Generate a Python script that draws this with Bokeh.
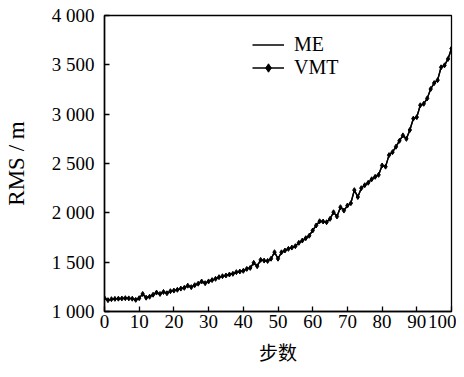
from bokeh.plotting import figure
from bokeh.models import Range1d, FixedTicker, Legend, LegendItem
from bokeh.embed import file_html
from bokeh.resources import INLINE

steps = list(range(0, 101))
vmt = [1135, 1115, 1125, 1128, 1130, 1132, 1135, 1133, 1130, 1118,
       1135, 1178, 1140, 1150, 1170, 1192, 1178, 1198, 1185, 1206,
       1212, 1220, 1232, 1240, 1262, 1247, 1267, 1282, 1304, 1287,
       1305, 1318, 1331, 1348, 1358, 1365, 1375, 1382, 1399, 1405,
       1412, 1432, 1442, 1493, 1459, 1523, 1516, 1512, 1535, 1601,
       1535, 1600, 1618, 1635, 1648, 1662, 1696, 1719, 1743, 1768,
       1821, 1872, 1915, 1912, 1905, 1939, 2006, 1963, 2057, 2023,
       2074, 2098, 2230, 2160, 2250, 2280, 2305, 2340, 2365, 2385,
       2480, 2468, 2585, 2615, 2670, 2730, 2785, 2750, 2840, 2955,
       2970, 3090, 3105, 3160, 3255, 3315, 3345, 3475, 3495, 3560,
       3665]
me = [1135, 1115, 1125, 1128, 1130, 1132, 1135, 1133, 1130, 1118,
      1135, 1178, 1140, 1150, 1170, 1192, 1178, 1198, 1185, 1206,
      1212, 1220, 1232, 1240, 1262, 1247, 1267, 1282, 1304, 1287,
      1305, 1318, 1331, 1348, 1358, 1365, 1375, 1382, 1399, 1405,
      1412, 1432, 1442, 1493, 1459, 1523, 1516, 1512, 1535, 1601,
      1535, 1600, 1618, 1635, 1648, 1662, 1696, 1719, 1743, 1768,
      1821, 1872, 1915, 1912, 1905, 1939, 2006, 1963, 2057, 2023,
      2074, 2098, 2230, 2160, 2250, 2280, 2305, 2340, 2365, 2385,
      2480, 2468, 2585, 2615, 2670, 2730, 2785, 2750, 2840, 2955,
      2970, 3090, 3105, 3160, 3255, 3315, 3345, 3475, 3495, 3560,
      3665]
x_ticks = [0, 10, 20, 30, 40, 50, 60, 70, 80, 90, 100]
y_ticks = [1000, 1500, 2000, 2500, 3000, 3500, 4000]
y_tick_labels = ["1 000", "1 500", "2 000", "2 500", "3 000", "3 500", "4 000"]
x_title = "步数"
y_title = "RMS / m"

SERIF = "Liberation Serif"

p = figure(width=456, height=369, output_backend="svg", toolbar_location=None,
           x_range=Range1d(0, 100), y_range=Range1d(1000, 4000),
           min_border_left=102, min_border_right=5, min_border_top=15, min_border_bottom=58)
p.background_fill_color = "white"
p.border_fill_color = "white"
p.outline_line_color = "black"
p.outline_line_width = 1.3
p.xgrid.visible = False
p.ygrid.visible = False

r_me = p.line(steps, me, line_color="black", line_width=1.4)
r_vmt_line = p.line(steps, vmt, line_color="black", line_width=1.4)
r_vmt_pts = p.scatter(steps, vmt, marker="diamond", size=5, fill_color="black", line_color="black")

for ax in (p.xaxis[0], p.yaxis[0]):
    ax.major_tick_in = 5
    ax.major_tick_out = 0
    ax.minor_tick_in = 0
    ax.minor_tick_out = 0
    ax.axis_line_color = "black"
    ax.axis_line_width = 1.5
    ax.major_tick_line_color = "black"
    ax.major_tick_line_width = 1.3
    ax.major_label_text_font = SERIF
    ax.major_label_text_font_size = "19px"
    ax.major_label_text_color = "black"
    ax.axis_label_text_font_style = "normal"
    ax.axis_label_text_color = "black"

p.xaxis.ticker = FixedTicker(ticks=x_ticks)
p.yaxis.ticker = FixedTicker(ticks=y_ticks)
p.yaxis.major_label_overrides = {t: l for t, l in zip(y_ticks, y_tick_labels)}
p.xaxis.major_label_standoff = 3
p.yaxis.major_label_standoff = 10

p.xaxis.axis_label = x_title
p.xaxis.axis_label_text_font = "Noto Sans CJK SC"
p.xaxis.axis_label_text_font_size = "19px"
p.xaxis.axis_label_standoff = 7

p.yaxis.axis_label = y_title
p.yaxis.axis_label_text_font = SERIF
p.yaxis.axis_label_text_font_size = "23px"
p.yaxis.axis_label_standoff = 20

legend = Legend(items=[LegendItem(label="ME", renderers=[r_me]),
                       LegendItem(label="VMT", renderers=[r_vmt_line, r_vmt_pts])],
                location=(148, 232))
legend.background_fill_alpha = 0
legend.border_line_alpha = 0
legend.padding = 0
legend.margin = 0
legend.spacing = 0
legend.glyph_width = 32
legend.glyph_height = 21
legend.label_height = 21
legend.label_standoff = 10
legend.label_text_font = SERIF
legend.label_text_font_size = "20px"
legend.label_text_color = "black"
p.add_layout(legend, "center")

open("out.html", "w").write(file_html(p, INLINE))
